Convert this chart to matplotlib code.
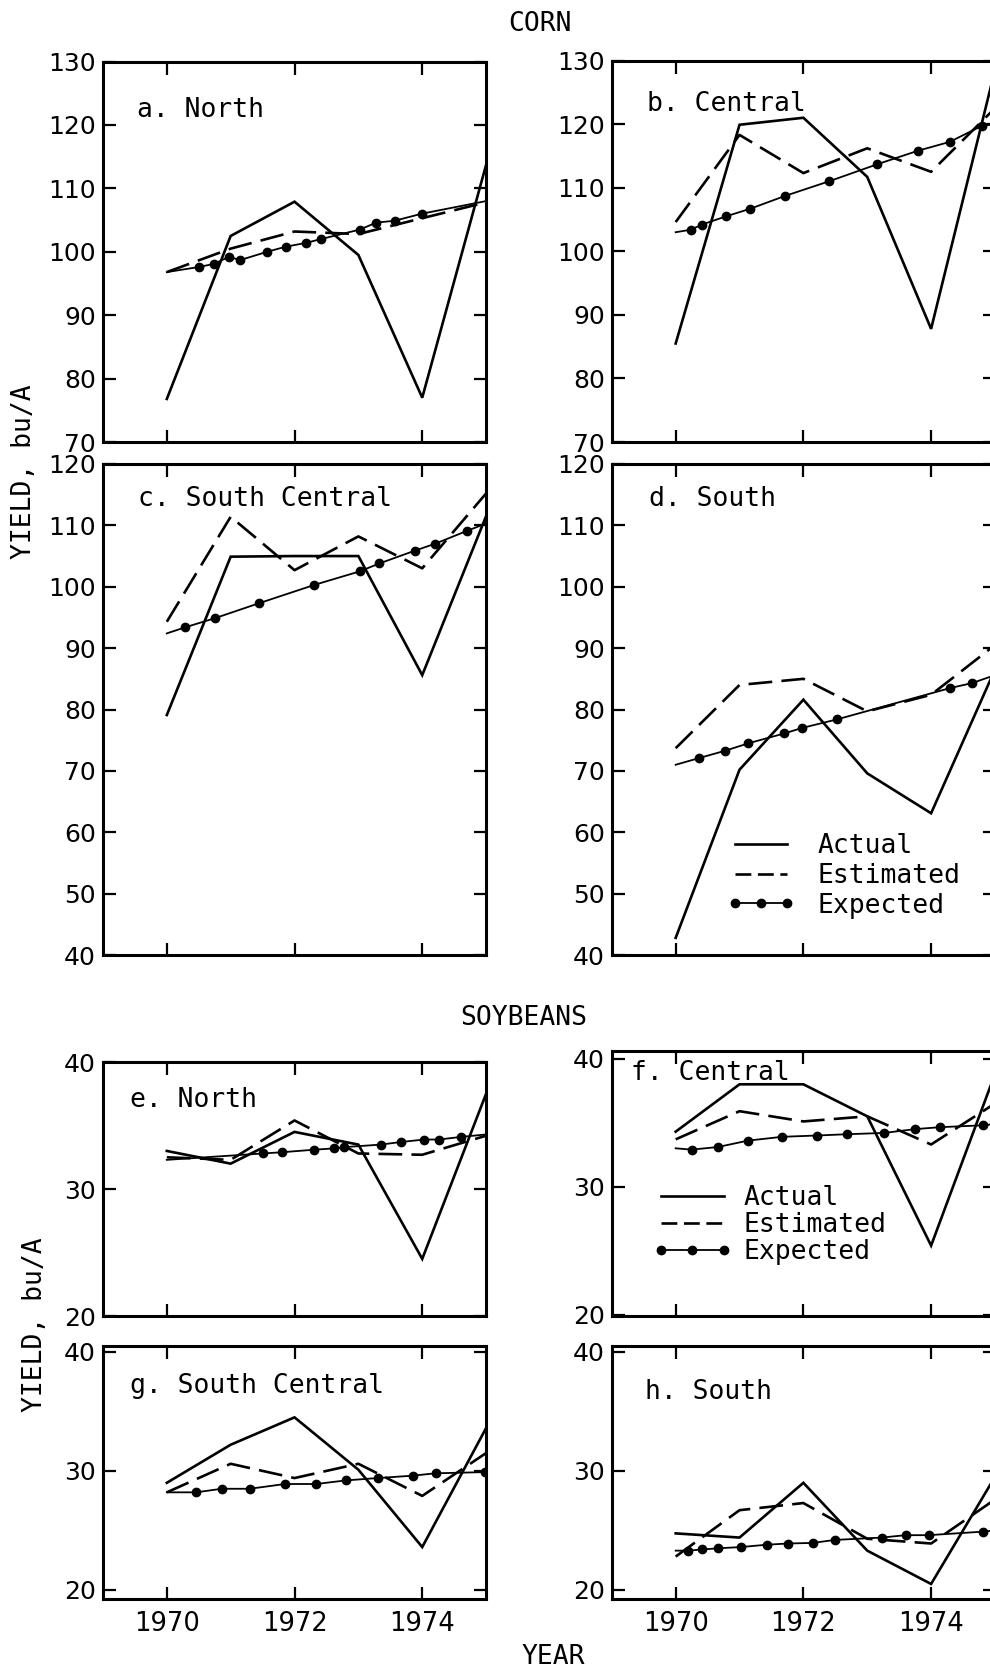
"""
Regional corn and soybean yields, 1970-75: actual, estimated and expected.

Usage:
    python plot.py

Writes out.png (990 x 1672 px), eight panels:
    a-d  corn, bu/A   (North, Central, South Central, South)
    e-h  soybeans     (North, Central, South Central, South)
"""
import matplotlib
matplotlib.use("Agg")
import matplotlib.pyplot as plt
from matplotlib.lines import Line2D

YEARS = [1970, 1971, 1972, 1973, 1974, 1975]
YEAR_TICKS = [1970, 1972, 1974]

# --- corn ---
A_ACTUAL = [76.8, 102.5, 107.9, 99.5, 77.0, 113.7]
A_EST    = [96.8, 100.5, 103.2, 102.8, 105.3, 107.8]
A_EXP    = (96.8, 108.0)   # trend value at 1970 and 1975
A_DOT_X  = [1970.50, 1970.74, 1970.97, 1971.15, 1971.57, 1971.86,
            1972.18, 1972.41, 1973.02, 1973.28, 1973.57, 1973.99]
A_DOT_Y  = [97.6, 98.1, 99.2, 98.7, 100.0, 100.8,
            101.4, 102.0, 103.5, 104.6, 104.9, 106.0]

B_ACTUAL = [85.5, 119.9, 121.0, 111.7, 87.8, 128.5]
B_EST    = [104.6, 118.3, 112.3, 116.2, 112.5, 122.5]
B_EXP    = (103.0, 120.0)
B_DOT_X  = [1970.24, 1970.41, 1970.79, 1971.17, 1971.71,
            1972.40, 1973.16, 1973.79, 1974.29, 1974.79]
B_DOT_Y  = [103.4, 104.2, 105.5, 106.7, 108.7,
            111.0, 113.7, 115.8, 117.2, 119.7]

C_ACTUAL = [79.1, 104.9, 105.0, 105.0, 85.6, 111.5]
C_EST    = [94.3, 111.4, 102.7, 108.2, 103.0, 115.2]
C_EXP    = (92.4, 110.3)
C_DOT_X  = [1970.29, 1970.76, 1971.44, 1972.31, 1973.02,
            1973.33, 1973.89, 1974.20, 1974.70]
C_DOT_Y  = [93.4, 94.9, 97.3, 100.3, 102.5, 103.8, 105.9, 107.0, 109.1]

D_ACTUAL = [42.8, 70.2, 81.6, 69.6, 63.1, 86.5]
D_EST    = [73.7, 84.0, 85.0, 79.7, 82.4, 90.5]
D_EXP    = (71.0, 85.6)
D_DOT_X  = [1970.37, 1970.78, 1971.14, 1971.70, 1971.98, 1972.53,
            1974.30, 1974.64]
D_DOT_Y  = [72.1, 73.3, 74.5, 76.1, 77.0, 78.4, 83.5, 84.3]

# --- soybeans ---
E_ACTUAL = [33.0, 32.0, 34.5, 33.5, 24.5, 37.5]
E_EST    = [32.5, 32.3, 35.4, 32.8, 32.7, 34.2]
E_EXP    = (32.3, 34.3)
E_DOT_X  = [1971.50, 1971.81, 1972.31, 1972.62, 1972.78,
            1973.35, 1973.66, 1974.03, 1974.26, 1974.60]
E_DOT_Y  = [32.8, 32.9, 33.1, 33.2, 33.3, 33.5, 33.7, 33.9, 33.9, 34.1]

F_ACTUAL = [34.3, 38.0, 38.0, 35.5, 25.4, 38.8]
F_EST    = [33.7, 35.9, 35.1, 35.5, 33.3, 36.5]
F_EXP    = (33.0, 34.9)
F_DOT_X  = [1970.25, 1970.66, 1971.13, 1971.67, 1972.21,
            1972.68, 1973.26, 1973.75, 1974.14, 1974.82]
F_DOT_Y  = [32.9, 33.1, 33.6, 33.9, 34.0, 34.1, 34.2, 34.5, 34.65, 34.8]

G_ACTUAL = [29.0, 32.2, 34.5, 30.1, 23.6, 33.6]
G_EST    = [28.2, 30.6, 29.4, 30.6, 27.9, 31.5]
G_EXP    = (28.2, 29.9)
G_DOT_X  = [1970.46, 1970.86, 1971.30, 1971.85, 1972.34,
            1972.80, 1973.30, 1973.85, 1974.21, 1974.98]
G_DOT_Y  = [28.2, 28.5, 28.5, 28.9, 28.9, 29.2, 29.4, 29.6, 29.8, 29.9]

H_ACTUAL = [24.75, 24.4, 29.0, 23.3, 20.5, 29.5]
H_EST    = [22.8, 26.7, 27.3, 24.3, 23.9, 27.6]
H_EXP    = (23.3, 25.0)
H_DOT_X  = [1970.20, 1970.42, 1970.67, 1971.02, 1971.43, 1971.76,
            1972.15, 1972.49, 1973.23, 1973.60, 1973.96, 1974.82]
H_DOT_Y  = [23.3, 23.4, 23.5, 23.6, 23.8, 23.9,
            23.95, 24.2, 24.4, 24.6, 24.6, 24.9]

CORN_YTICKS_TOP = list(range(70, 131, 10))
CORN_YTICKS_LOW = list(range(40, 121, 10))
SOY_YTICKS      = [20, 30, 40]

LEGEND_LABELS = ["Actual", "Estimated", "Expected"]

# panel layout, figure fractions: (left, bottom, width, height)
LEFT_X, RIGHT_X, COL_W = 0.104, 0.618, 0.387
MONO = "DejaVu Sans Mono"
LABEL_SIZE = 19
DASHES = (9, 3.5)
LW = 1.9


def draw_panel(ax, label, label_pos, actual, est, exp_ends, dot_x, dot_y,
               ylim, yticks, bottom_row):
    ax.plot(YEARS, actual, color="black", lw=LW, solid_joinstyle="miter")
    ax.plot(YEARS, est, color="black", lw=LW, dashes=DASHES)

    # expected trend: thin line through the printed dots
    ex = [YEARS[0]] + dot_x + [YEARS[-1]]
    ey = [exp_ends[0]] + dot_y + [exp_ends[1]]
    ax.plot(ex, ey, color="black", lw=1.3, marker="o", ms=6,
            markevery=slice(1, len(ex) - 1))

    ax.set_xlim(1969, 1975)
    ax.set_ylim(*ylim)
    ax.set_xticks(YEAR_TICKS)
    ax.set_yticks(yticks)
    ax.tick_params(direction="in", top=True, right=True, length=9,
                   width=1.6, labelsize=18, pad=5)
    ax.tick_params(axis="x", labelbottom=bottom_row, labelsize=18.5, pad=8)
    for sp in ax.spines.values():
        sp.set_linewidth(2.2)

    ax.text(label_pos[0], label_pos[1], label, transform=ax.transAxes,
            family=MONO, fontsize=LABEL_SIZE, va="baseline", ha="left")


def add_legend(ax, anchor, handlelength, textpad, spacing):
    handles = [
        Line2D([], [], color="black", lw=LW),
        Line2D([], [], color="black", lw=LW, dashes=(6, 2.5)),
        Line2D([], [], color="black", lw=1.3, marker="o", ms=6),
    ]
    ax.legend(handles, LEGEND_LABELS, loc="upper left", bbox_to_anchor=anchor,
              frameon=False, borderpad=0, borderaxespad=0, numpoints=3,
              handlelength=handlelength, handletextpad=textpad,
              labelspacing=spacing,
              prop={"family": MONO, "size": LABEL_SIZE})


def run(path="out.png"):
    plt.rcParams["font.family"] = "DejaVu Sans"
    fig = plt.figure(figsize=(9.9, 16.72), dpi=100)

    panels = [
        # (label, label pos, data..., ylim, yticks, rect, bottom row)
        ("a. North", (0.089, 0.854), A_ACTUAL, A_EST, A_EXP, A_DOT_X, A_DOT_Y,
         (70, 130), CORN_YTICKS_TOP, (LEFT_X, 0.7356, COL_W, 0.2276), False),
        ("b. Central", (0.091, 0.869), B_ACTUAL, B_EST, B_EXP, B_DOT_X, B_DOT_Y,
         (70, 130), CORN_YTICKS_TOP, (RIGHT_X, 0.7356, COL_W, 0.2282), False),
        ("c. South Central", (0.092, 0.914), C_ACTUAL, C_EST, C_EXP, C_DOT_X,
         C_DOT_Y, (40, 120), CORN_YTICKS_LOW,
         (LEFT_X, 0.4288, COL_W, 0.2937), False),
        ("d. South", (0.097, 0.914), D_ACTUAL, D_EST, D_EXP, D_DOT_X, D_DOT_Y,
         (40, 120), CORN_YTICKS_LOW, (RIGHT_X, 0.4288, COL_W, 0.2937), False),
        ("e. North", (0.070, 0.824), E_ACTUAL, E_EST, E_EXP, E_DOT_X, E_DOT_Y,
         (20, 40), SOY_YTICKS, (LEFT_X, 0.2129, COL_W, 0.1519), False),
        ("f. Central", (0.051, 0.890), F_ACTUAL, F_EST, F_EXP, F_DOT_X, F_DOT_Y,
         (19.9, 40.6), SOY_YTICKS, (RIGHT_X, 0.2129, COL_W, 0.1585), False),
        ("g. South Central", (0.070, 0.813), G_ACTUAL, G_EST, G_EXP, G_DOT_X,
         G_DOT_Y, (19.2, 40.5), SOY_YTICKS,
         (LEFT_X, 0.0434, COL_W, 0.1516), True),
        ("h. South", (0.086, 0.790), H_ACTUAL, H_EST, H_EXP, H_DOT_X, H_DOT_Y,
         (19.2, 40.5), SOY_YTICKS, (RIGHT_X, 0.0434, COL_W, 0.1516), True),
    ]

    axes = {}
    for (label, lpos, act, est, exp_ends, dx, dy, ylim, yt, rect,
         bottom) in panels:
        ax = fig.add_axes(rect)
        draw_panel(ax, label, lpos, act, est, exp_ends, dx, dy, ylim, yt,
                   bottom)
        axes[label[0]] = ax

    add_legend(axes["d"], (0.300, 0.248), 2.6, 0.85, 0.14)
    add_legend(axes["f"], (0.107, 0.495), 3.0, 0.45, 0.04)

    fig.text(0.545, 0.9856, "CORN", family=MONO, fontsize=LABEL_SIZE,
             ha="center", va="center")
    fig.text(0.529, 0.3911, "SOYBEANS", family=MONO, fontsize=LABEL_SIZE,
             ha="center", va="center")
    fig.text(0.5586, 0.0090, "YEAR", family=MONO, fontsize=LABEL_SIZE,
             ha="center", va="center")
    fig.text(0.024, 0.7177, "YIELD, bu/A", family=MONO, fontsize=LABEL_SIZE,
             rotation=90, ha="center", va="center")
    fig.text(0.035, 0.2075, "YIELD, bu/A", family=MONO, fontsize=LABEL_SIZE,
             rotation=90, ha="center", va="center")

    fig.savefig(path, dpi=100)
    plt.close(fig)


if __name__ == "__main__":
    run()
